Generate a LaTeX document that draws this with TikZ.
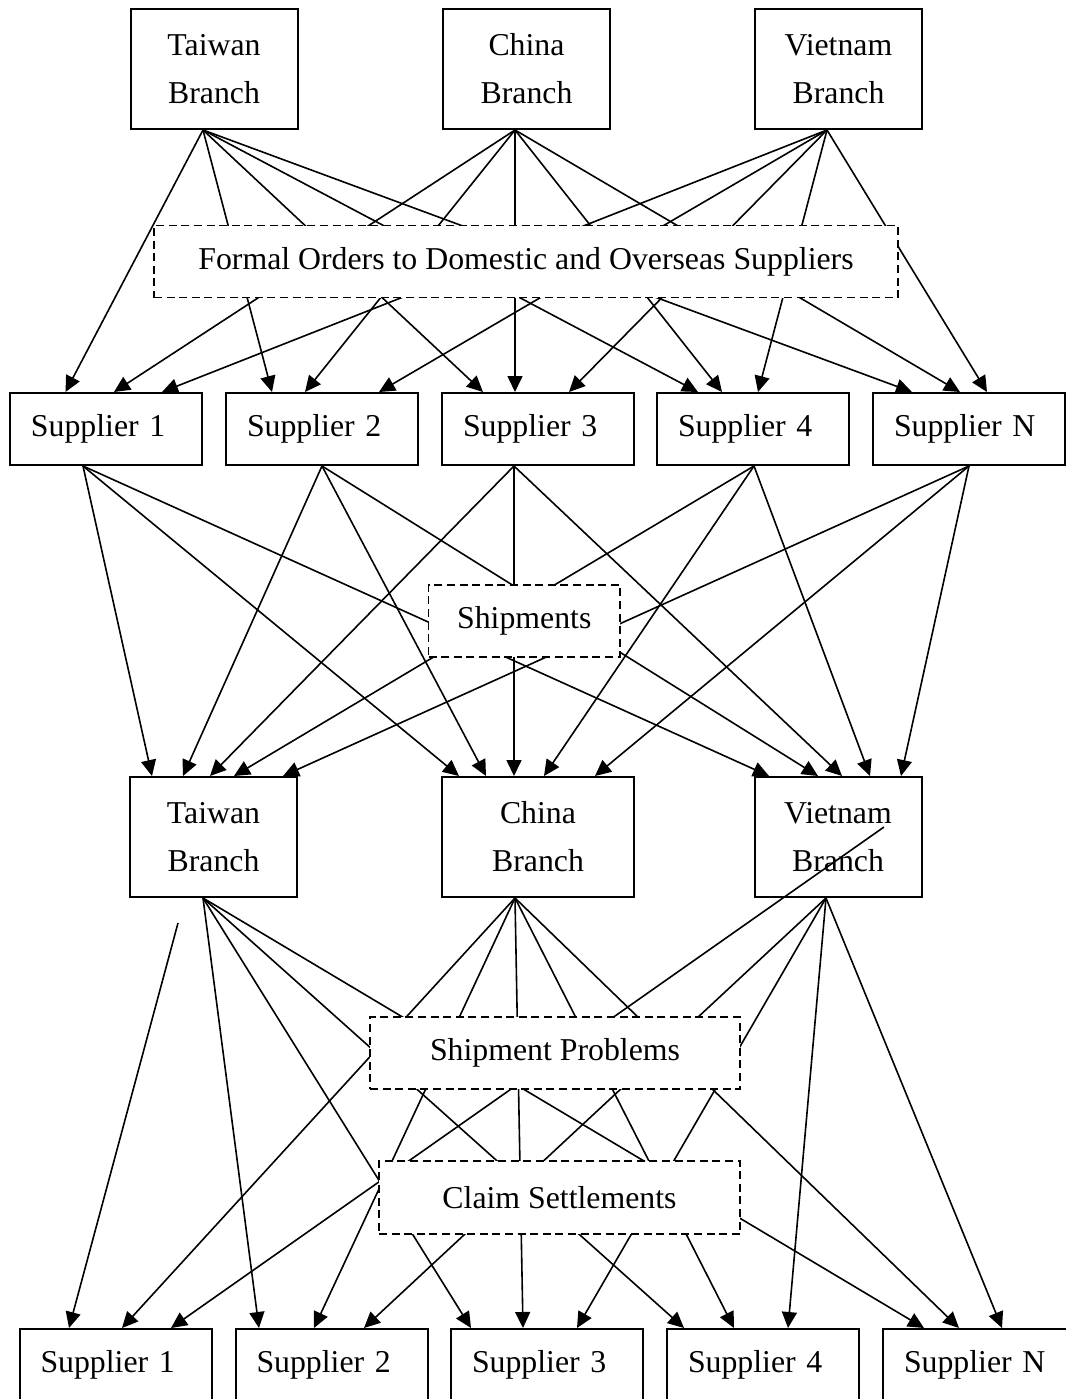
\documentclass[tikz,border=0pt]{standalone}
\usepackage{fontspec}
\setmainfont{Liberation Serif}
\usetikzlibrary{arrows.meta,calc}

\tikzset{
  branchbox/.style={draw, line width=1pt, minimum width=83.5pt, minimum height=60pt, inner sep=0pt, align=center},
  supbox/.style={draw, line width=1pt, text width=75pt, inner xsep=10.5pt, inner ysep=0pt, minimum height=36pt, align=left},
  notebox/.style={draw, dash pattern=on 4pt off 2.3pt, line width=0.8pt, fill=white, inner sep=0pt, minimum height=36pt},
  link/.style={line width=0.8pt, -{Triangle[length=8pt,width=7.5pt]}}
}

\begin{document}
\begin{tikzpicture}[x=0.5pt, y=-0.5pt, every node/.style={font=\fontsize{15.9}{24}\selectfont}]
  \useasboundingbox (0,0) rectangle (1066,1399);

  % Branches at the top
  \node[branchbox] (twA) at (214,69) {Taiwan\\Branch};
  \node[branchbox] (cnA) at (526.5,69) {China\\Branch};
  \node[branchbox] (vnA) at (838.5,69) {Vietnam\\Branch};

  % First row of suppliers
  \node[supbox] (s1A) at (106,429) {Supplier 1};
  \node[supbox] (s2A) at (322,429) {Supplier 2};
  \node[supbox] (s3A) at (538,429) {Supplier 3};
  \node[supbox] (s4A) at (753,429) {Supplier 4};
  \node[supbox] (sNA) at (969,429) {Supplier N};

  % Branches in the middle
  \node[branchbox] (twB) at (213.5,837) {Taiwan\\Branch};
  \node[branchbox, minimum width=96pt] (cnB) at (538,837) {China\\Branch};
  \node[branchbox] (vnB) at (838,837) {Vietnam\\Branch};

  % Second row of suppliers
  \node[supbox] (s1C) at (115.5,1365) {Supplier 1};
  \node[supbox] (s2C) at (331.5,1365) {Supplier 2};
  \node[supbox] (s3C) at (547,1365) {Supplier 3};
  \node[supbox] (s4C) at (763,1365) {Supplier 4};
  \node[supbox] (sNC) at (979,1365) {Supplier N};

  % Start points of the connectors
  \coordinate (twAo) at ($(twA.south)+(-11,0)$);
  \coordinate (cnAo) at ($(cnA.south)+(-11.5,0)$);
  \coordinate (vnAo) at ($(vnA.south)+(-11.5,0)$);
  \coordinate (s1Ao) at ($(s1A.south)+(-23,0)$);
  \coordinate (s2Ao) at (s2A.south);
  \coordinate (s3Ao) at ($(s3A.south)+(-24,0)$);
  \coordinate (s4Ao) at ($(s4A.south)+(1,0)$);
  \coordinate (sNAo) at (sNA.south);
  \coordinate (twBo) at ($(twB.south)+(-10.5,0)$);
  \coordinate (cnBo) at ($(cnB.south)+(-23,0)$);
  \coordinate (vnBo) at ($(vnB.south)+(-12,0)$);
  \coordinate (twBx) at ($(twB.south)+(-35.5,25)$);
  \coordinate (vnBx) at ($(vnB.center)+(46,-10)$);

  % Formal orders: branches to suppliers
  \draw[link] (twAo) -- ($(s1A.north)+(-40.5,0)$);
  \draw[link] (cnAo) -- ($(s1A.north)+(8,0)$);
  \draw[link] (vnAo) -- ($(s1A.north)+(56,0)$);
  \draw[link] (twAo) -- ($(s2A.north)+(-50,0)$);
  \draw[link] (cnAo) -- ($(s2A.north)+(-17,0)$);
  \draw[link] (vnAo) -- ($(s2A.north)+(57,0)$);
  \draw[link] (twAo) -- ($(s3A.north)+(-55,0)$);
  \draw[link] (cnAo) -- ($(s3A.north)+(-23,0)$);
  \draw[link] (vnAo) -- ($(s3A.north)+(31,0)$);
  \draw[link] (twAo) -- ($(s4A.north)+(-55,0)$);
  \draw[link] (cnAo) -- ($(s4A.north)+(-31,0)$);
  \draw[link] (vnAo) -- ($(s4A.north)+(5,0)$);
  \draw[link] (twAo) -- ($(sNA.north)+(-57,0)$);
  \draw[link] (cnAo) -- ($(sNA.north)+(-9,0)$);
  \draw[link] (vnAo) -- ($(sNA.north)+(18,0)$);

  % Shipments: suppliers to branches
  \draw[link] (s1Ao) -- ($(twB.north)+(-61.5,0)$);
  \draw[link] (s2Ao) -- ($(twB.north)+(-30.5,0)$);
  \draw[link] (s3Ao) -- ($(twB.north)+(-3.5,0)$);
  \draw[link] (s4Ao) -- ($(twB.north)+(20.5,0)$);
  \draw[link] (sNAo) -- ($(twB.north)+(69.5,0)$);
  \draw[link] (s1Ao) -- ($(cnB.north)+(-79,0)$);
  \draw[link] (s2Ao) -- ($(cnB.north)+(-52,0)$);
  \draw[link] (s3Ao) -- ($(cnB.north)+(-24,0)$);
  \draw[link] (s4Ao) -- ($(cnB.north)+(6,0)$);
  \draw[link] (sNAo) -- ($(cnB.north)+(57,0)$);
  \draw[link] (s1Ao) -- ($(vnB.north)+(-69,0)$);
  \draw[link] (s2Ao) -- ($(vnB.north)+(-20,0)$);
  \draw[link] (s3Ao) -- ($(vnB.north)+(4,0)$);
  \draw[link] (s4Ao) -- ($(vnB.north)+(32,0)$);
  \draw[link] (sNAo) -- ($(vnB.north)+(63,0)$);

  % Problems and claims: branches to suppliers
  \draw[link] (twBx) -- ($(s1C.north)+(-46.5,0)$);
  \draw[link] (cnBo) -- ($(s1C.north)+(6.5,0)$);
  \draw[link] (vnBx) -- ($(s1C.north)+(55.5,0)$);
  \draw[link] (twBo) -- ($(s2C.north)+(-72.5,0)$);
  \draw[link] (cnBo) -- ($(s2C.north)+(-17.5,0)$);
  \draw[link] (vnBo) -- ($(s2C.north)+(32.5,0)$);
  \draw[link] (twBo) -- ($(s3C.north)+(-76,0)$);
  \draw[link] (cnBo) -- ($(s3C.north)+(-24,0)$);
  \draw[link] (vnBo) -- ($(s3C.north)+(30,0)$);
  \draw[link] (twBo) -- ($(s4C.north)+(-79,0)$);
  \draw[link] (cnBo) -- ($(s4C.north)+(-29,0)$);
  \draw[link] (vnBo) -- ($(s4C.north)+(25,0)$);
  \draw[link] (twBo) -- ($(sNC.north)+(-55,0)$);
  \draw[link] (cnBo) -- ($(sNC.north)+(-20,0)$);
  \draw[link] (vnBo) -- ($(sNC.north)+(23,0)$);

  % Dashed labels over the connectors
  \node[notebox, minimum width=372pt] (orders) at (526,261.5) {Formal Orders to Domestic and Overseas Suppliers};
  \node[notebox, minimum width=95.7pt] (ship) at (524.3,621) {Shipments};
  \node[notebox, minimum width=185pt] (probs) at (555,1053) {Shipment Problems};
  \node[notebox, minimum width=180.5pt, minimum height=36.5pt] (claims) at (559.5,1197.5) {Claim Settlements};

\end{tikzpicture}
\end{document}
